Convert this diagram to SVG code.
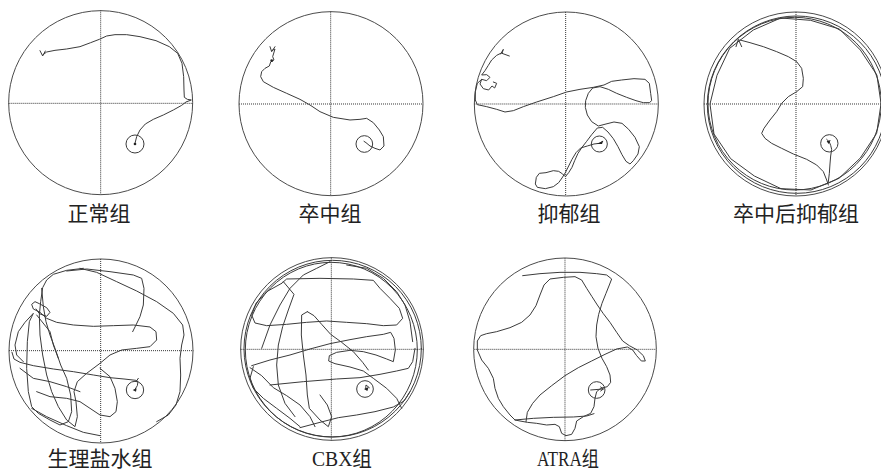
<svg xmlns="http://www.w3.org/2000/svg" width="881" height="471" viewBox="0 0 881 471">
<style>
.bg{fill:#fff}
.ring{fill:none;stroke:#4a4a4a;stroke-width:3}
.cross{fill:none;stroke:#333;stroke-width:3;stroke-dasharray:3 3}
.plat{fill:none;stroke:#3a3a3a;stroke-width:3}
.trk{fill:none;stroke:#3a3a3a;stroke-width:3;stroke-linejoin:round;stroke-linecap:round}
.lbl{font-family:"Liberation Serif","Noto Sans CJK SC",serif;font-size:21px;fill:#222;text-anchor:middle}
</style>
<rect class="bg" x="0" y="0" width="881" height="471"/>

<g id="panel-normal">
<g transform="translate(0,0) scale(0.33333)">
<circle class="ring" cx="302" cy="308" r="276"/>
<path class="cross" d="M26 310 H579 M302 31 V584"/>
<circle class="plat" cx="405" cy="432" r="27"/>
<path class="trk" d="M120 152 L128 168 L136 153 M128 165 L140 156 L165 151 L200 147 L240 140 L272 128 L298 118 L320 108 L345 104 L380 104 L420 110 L468 122 L508 140 L533 160 L546 190 L551 230 L552 270 L553 292 L562 298 L574 300 L558 306 L545 316 L520 330 L490 345 L460 358 L436 372 L420 390 L410 410 L405 430"/>
<circle cx="405" cy="432" r="4" fill="#222"/>
</g>
<text class="lbl" x="99" y="221">正常组</text>
</g>

<g id="panel-stroke">
<g transform="translate(220,0) scale(0.33333)">
<circle class="ring" cx="333" cy="311" r="276"/>
<path class="cross" d="M57 312 H609 M332 35 V587"/>
<circle class="plat" cx="433" cy="432" r="25"/>
<path class="trk" d="M150 140 L155 155 L165 140 M155 152 L165 147 L158 170 L162 180 L152 186 L148 198 L135 205 L125 215 L122 230 L130 245 L160 262 L200 280 L240 298 L270 315 L300 335 L340 352 L390 360 L420 358 L440 355 L460 368 L478 390 L490 410 L492 438 L480 450 L465 445 L450 438 L438 428 L432 424"/>
<circle cx="155" cy="182" r="4" fill="#222"/>
</g>
<text class="lbl" x="330" y="221">卒中组</text>
</g>

<g id="panel-depression">
<g transform="translate(440,0) scale(0.33333)">
<circle class="ring" cx="379" cy="312" r="276"/>
<path class="cross" d="M103 312 H655 M377 36 V588"/>
<circle class="plat" cx="478" cy="432" r="24"/>
<path class="trk" d="M182 162 L190 148 L186 160 L208 168 M186 158 L170 166 L155 180 L145 196 L135 212 L125 225 L140 224 L150 232 L140 242 L125 238 L120 252 L130 266 L146 270 L156 258 L164 264 L170 250 L160 246 M125 238 L112 250 L106 275 L106 300 L112 314 L140 320 L170 328 L195 336 L220 332 L250 320 L290 306 L340 290 L380 276 L420 268 L460 262 L492 255 L515 244 L545 240 L582 236 L615 238 L628 250 L632 280 L635 302 L628 308 L610 308 L588 302 L560 292 L530 280 L505 268 L480 260 L458 264 L445 280 L437 302 L436 322 L442 345 L455 365 L475 378 L498 372 L522 366 L546 370 L566 388 L585 412 L598 440 L594 462 L580 482 L570 492 L558 484 L546 464 L534 440 L520 416 L504 396 L488 382 L472 384 L455 404 L440 424 L426 442 L414 460 L404 482 L396 502 L386 518 L376 530 L368 522 L356 514 L340 512 L318 518 L298 520 L289 532 L286 552 L292 562 L316 566 L340 560 L356 548 L366 534 L376 518 L386 498 L396 478 L408 458 L422 444 L442 438 L462 432 L478 430 L488 424"/>
<path d="M470 432 L490 422 L486 432 Z" fill="#222"/>
</g>
<text class="lbl" x="569" y="221">抑郁组</text>
</g>

<g id="panel-post-stroke-depression">
<g transform="translate(660,0) scale(0.33333)">
<circle class="ring" cx="408" cy="312" r="276"/>
<path class="cross" d="M132 312 H684 M408 36 V588"/>
<circle class="plat" cx="508" cy="430" r="26"/>
<ellipse class="trk" cx="410" cy="314" rx="268" ry="266"/>
<ellipse class="trk" cx="404" cy="311" rx="260" ry="259"/>
<path class="trk" d="M663 312 L650 400 L601 474 L537 535 L453 570 L363 566 L283 528 L212 476 L162 402 L150 312 L171 226 L209 145 L280 90 L362 54 L452 61 L538 87 L601 150 L650 224 Z"/>
<path class="trk" d="M228 140 L235 118 L245 140 M240 120 L270 128 L310 140 L350 155 L385 170 L410 185 L425 205 L430 235 L428 260 L410 275 L385 290 L365 310 L350 335 L330 360 L312 385 L305 400 L315 415 L335 430 L365 445 L400 462 L440 478 L470 495 L490 515 L500 540 L505 555"/>
<path class="trk" d="M500 418 L508 426 L512 436 L515 448 L512 468 L510 492 L508 520 L505 545"/>
<path d="M500 424 L512 420 L506 432 Z" fill="#222"/>
</g>
<text class="lbl" x="796" y="221">卒中后抑郁组</text>
</g>

<g id="panel-saline">
<g transform="translate(0,235) scale(0.33333)">
<circle class="ring" cx="303" cy="348" r="276"/>
<path class="cross" d="M27 347 H580 M302 72 V624"/>
<circle class="plat" cx="405" cy="465" r="26"/>
<path class="trk" d="M250 100 L200 106 L160 118 L140 135 L128 158 L122 200 L118 240 L120 300 L128 360 L140 420 L155 470 L175 515 L200 555 L225 575 L232 545 L228 500 L222 470 L232 440 L260 415 L300 385 L330 360 L365 345 L410 340 L450 335 L470 315 L468 290 L450 276 L400 270 L340 272 L280 274 L220 270 L170 262 L140 250 L120 232 L100 222 L95 208 L105 200 L118 206 L140 218 L150 232 L140 244 L118 236 L108 222"/>
<path class="trk" d="M125 160 L130 215 L138 260 L150 300 L165 340 L182 390 L200 430 L212 480 L215 530 L205 560 L180 570 L150 555 L115 535 L95 515 L85 470 L80 400 L82 320 L88 260 L100 235 L75 262 L55 290 L45 330 L50 360 L70 380"/>
<path class="trk" d="M36 352 L42 372 L60 382 L100 392 L160 402 L220 410 L280 420 L330 428 L372 432 L408 436 L414 440 L412 452 L405 463 M408 440 L415 430"/>
<path class="trk" d="M240 100 L290 112 L350 140 L410 168 L470 200 L520 235 L548 270 L552 300 L545 330 L540 370 L542 420 L540 470 L528 510 L505 540 L470 560"/>
<path class="trk" d="M200 108 L260 102 L330 110 L400 120 L425 130 L432 160 L430 210 L420 245 L408 270 L398 290"/>
<path class="trk" d="M300 400 L330 425 L345 460 L352 500 L348 530 L330 545 L300 540 L270 520 L240 500 L200 490 L150 485 L110 470"/>
<path class="trk" d="M95 520 L140 545 L200 572 L250 592 L300 602"/>
<path class="trk" d="M60 400 L100 430 L150 440 L200 455 L240 470 M110 240 L150 290 L160 330 L175 370"/>
<path d="M398 465 L410 460 L408 470 Z" fill="#222"/>
</g>
<text class="lbl" x="100" y="466">生理盐水组</text>
</g>

<g id="panel-cbx">
<g transform="translate(220,235) scale(0.33333)">
<circle class="ring" cx="336" cy="342" r="274"/>
<path class="cross" d="M62 343 H610 M334 68 V616"/>
<circle class="plat" cx="435" cy="462" r="25"/>
<ellipse class="trk" cx="338" cy="341" rx="266" ry="265"/>
<ellipse class="trk" cx="334" cy="344" rx="258" ry="262"/>
<path class="trk" d="M185 145 L200 132 L300 130 L400 132 L460 136 L480 160 L510 190 L538 220 L548 250 L530 270 L490 272 L440 266 L380 262 L320 258 L260 262 L200 268 L140 272 L105 264 L95 240 L108 205 L140 170 L185 145"/>
<path class="trk" d="M262 230 L282 242 L305 268 L332 298 L365 322 L400 350 L428 382 L445 405 M262 230 L245 240 L244 300 L250 360 L258 420 L262 480 L268 520 L300 555 L325 575 L335 545 L322 510 L300 480"/>
<path class="trk" d="M95 392 L150 375 L210 360 L270 342 L330 326 L390 314 L440 305 L490 298 L512 292 L522 310 L526 345 L520 380 L500 372 L468 360 L430 350 L390 346 L350 352 L328 362 L326 378 L345 386 L390 396 L430 408 L460 430 L500 460 L530 490 L545 520"/>
<path class="trk" d="M150 450 L250 440 L350 432 L420 428 L480 418 L530 408 L565 400 L578 380 L585 340"/>
<path class="trk" d="M90 398 L125 422 L160 458 L200 482 L240 510 L270 545 L285 575"/>
<path class="trk" d="M240 578 L300 562 L355 548 L410 540 L465 530 L520 516 L552 498 L570 470"/>
<path class="trk" d="M190 140 L222 178 L205 225 L188 275 L175 330 L170 390 L175 450 L195 505 L225 545"/>
<path class="trk" d="M100 395 L90 430 L100 460 L130 490 L170 520 L210 550 L240 575"/>
<path class="trk" d="M330 80 L290 100 L250 120 L210 160 L180 210 L150 270 L125 340 M380 90 L440 100 L490 130 L530 170 L555 210 L570 260 L578 320"/>
<path class="trk" d="M437 462 L438 450 L448 458"/>
<path d="M432 462 L446 456 L442 468 Z" fill="#222"/>
</g>
<text class="lbl" x="342" y="466" textLength="60" lengthAdjust="spacingAndGlyphs">CBX组</text>
</g>

<g id="panel-atra">
<g transform="translate(440,235) scale(0.33333)">
<circle class="ring" cx="375" cy="343" r="274"/>
<path class="cross" d="M103 343 H648 M375 70 V618"/>
<circle class="plat" cx="470" cy="465" r="25"/>
<path class="trk" d="M248 122 L300 116 L360 112 L420 112 L470 116 L500 120 L515 132 L508 150 L498 175 L486 205 L476 238 L470 270 L468 305 L474 340 L486 370 L500 395 L510 420 L512 442 L502 455 L482 460 L470 470 L465 490 L462 515 L452 535 L430 545 L410 558 L405 580 L395 598 L378 602 L365 595 L358 575 L345 568 L320 570 L290 565 L262 562 L240 558 L225 555 L210 540 L190 515 L175 490 L165 460 L160 430 L145 400 L125 375 L112 345 L112 318 L122 302 L140 296 L170 290 L210 278 L245 262 L270 240 L288 212 L300 180 L312 150 L330 132 L370 127 L405 125 L425 135 L440 160 L456 185 L472 210 L490 236 L510 262 L530 292 L548 318 L568 332 L592 345 L610 362 L616 378 L604 378 L590 362 L578 345 L562 336 L530 342 L495 358 L455 378 L415 398 L375 422 L335 452 L300 480 L278 505 L262 532 L258 560"/>
<path class="trk" d="M225 555 L280 550 L340 547 L400 546 L440 543 L462 536"/>
<path class="trk" d="M452 465 L490 462 M482 456 L490 462 L482 468"/>
</g>
<text class="lbl" x="568" y="466" textLength="62" lengthAdjust="spacingAndGlyphs">ATRA组</text>
</g>
</svg>
